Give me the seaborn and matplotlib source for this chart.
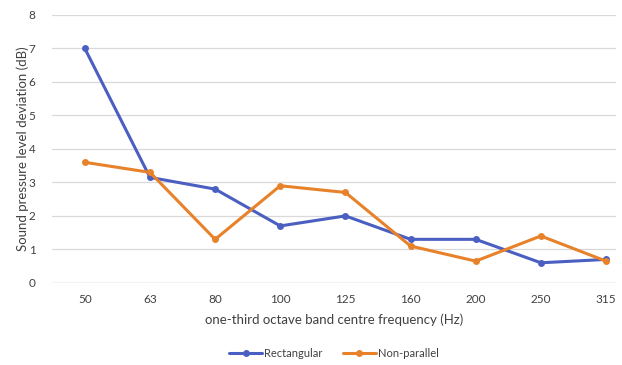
import matplotlib
matplotlib.use("Agg")
import matplotlib.pyplot as plt
import seaborn as sns
import pandas as pd

frequencies = ["50", "63", "80", "100", "125", "160", "200", "250", "315"]
rectangular = [7.0, 3.15, 2.8, 1.7, 2.0, 1.3, 1.3, 0.6, 0.7]
non_parallel = [3.6, 3.3, 1.3, 2.9, 2.7, 1.1, 0.65, 1.4, 0.65]
series_names = ["Rectangular", "Non-parallel"]
colors = ["#4A5FC1", "#E8822A"]

df = pd.DataFrame({
    "freq": frequencies * 2,
    "value": rectangular + non_parallel,
    "series": [series_names[0]] * len(frequencies) + [series_names[1]] * len(frequencies),
})

sns.set_theme(style="white")
plt.rcParams['font.family'] = ['Lato', 'DejaVu Sans']

fig = plt.figure(figsize=(6.22, 3.65), dpi=100)
ax = fig.add_axes([0.084, 0.225, 0.906, 0.734])

sns.lineplot(data=df, x="freq", y="value", hue="series", palette=colors,
             marker="o", markersize=5, markeredgewidth=0, linewidth=2.2,
             sort=False, ax=ax, legend=True)

ax.set_ylim(0, 8)
ax.set_xlim(-0.5, 8.15)
ax.set_yticks(range(0, 9))
ax.yaxis.grid(True, color="#d9d9d9", linewidth=0.9)
ax.xaxis.grid(False)
for s in ax.spines.values():
    s.set_visible(False)
ax.axhline(0, color="#d9d9d9", linewidth=1.0, zorder=0)
ax.tick_params(axis="both", length=0, labelsize=8.5, colors="#404040")
ax.tick_params(axis="x", pad=8)
ax.tick_params(axis="y", pad=12)
ax.set_xlabel("one-third octave band centre frequency (Hz)", fontsize=9.5, color="#404040", labelpad=6)
ax.set_ylabel("Sound pressure level deviation (dB)", fontsize=9.5, color="#404040", labelpad=0)

leg = ax.legend(loc="center", bbox_to_anchor=(0.5, -0.262), ncol=2, frameon=False,
                fontsize=8, handlelength=3.0, handletextpad=0.2, columnspacing=1.8)
for t in leg.get_texts():
    t.set_color("#404040")

fig.savefig("out.png", dpi=100)
